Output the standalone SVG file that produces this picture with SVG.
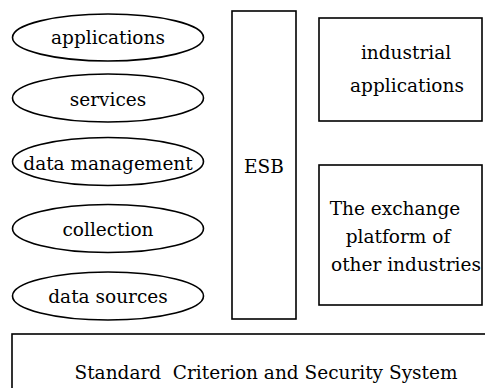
<svg xmlns="http://www.w3.org/2000/svg" width="485" height="388" viewBox="0 0 485 388">
  <style>
    .shape { fill: #ffffff; stroke: #000000; stroke-width: 1.6; }
    .label { font-family: "DejaVu Serif", "Liberation Serif", serif; font-size: 18.5px; fill: #000000; text-anchor: middle; }
  </style>
  <rect width="485" height="388" fill="#ffffff"/>

  <!-- layer stack on the left -->
  <g id="applications">
    <ellipse class="shape" cx="108" cy="37.5" rx="95.5" ry="23.5"/>
    <text class="label" x="108" y="44">applications</text>
  </g>
  <g id="services">
    <ellipse class="shape" cx="108" cy="98" rx="95.5" ry="24"/>
    <text class="label" x="108" y="105.5">services</text>
  </g>
  <g id="data-management">
    <ellipse class="shape" cx="108" cy="161.5" rx="95.5" ry="24"/>
    <text class="label" x="108" y="169.5">data management</text>
  </g>
  <g id="collection">
    <ellipse class="shape" cx="108" cy="228.5" rx="95.5" ry="24"/>
    <text class="label" x="108" y="236">collection</text>
  </g>
  <g id="data-sources">
    <ellipse class="shape" cx="108" cy="296" rx="95.5" ry="24"/>
    <text class="label" x="108" y="303">data sources</text>
  </g>

  <!-- bus -->
  <g id="esb">
    <rect class="shape" x="232" y="11" width="64" height="308"/>
    <text class="label" x="264" y="173">ESB</text>
  </g>

  <!-- right-hand boxes -->
  <g id="industrial-applications">
    <rect class="shape" x="319" y="18" width="163" height="103"/>
    <text class="label" x="406" y="59">industrial</text>
    <text class="label" x="407" y="92">applications</text>
  </g>
  <g id="exchange-platform">
    <rect class="shape" x="319" y="165" width="163" height="140"/>
    <text class="label" x="395" y="215">The exchange</text>
    <text class="label" x="398" y="243">platform of</text>
    <text class="label" x="406" y="271">other industries</text>
  </g>

  <!-- base layer -->
  <g id="standard-criterion">
    <rect class="shape" x="12" y="334" width="480" height="70"/>
    <text class="label" x="266" y="379" xml:space="preserve">Standard  Criterion and Security System</text>
  </g>

  <g id="connectors"></g>
</svg>
